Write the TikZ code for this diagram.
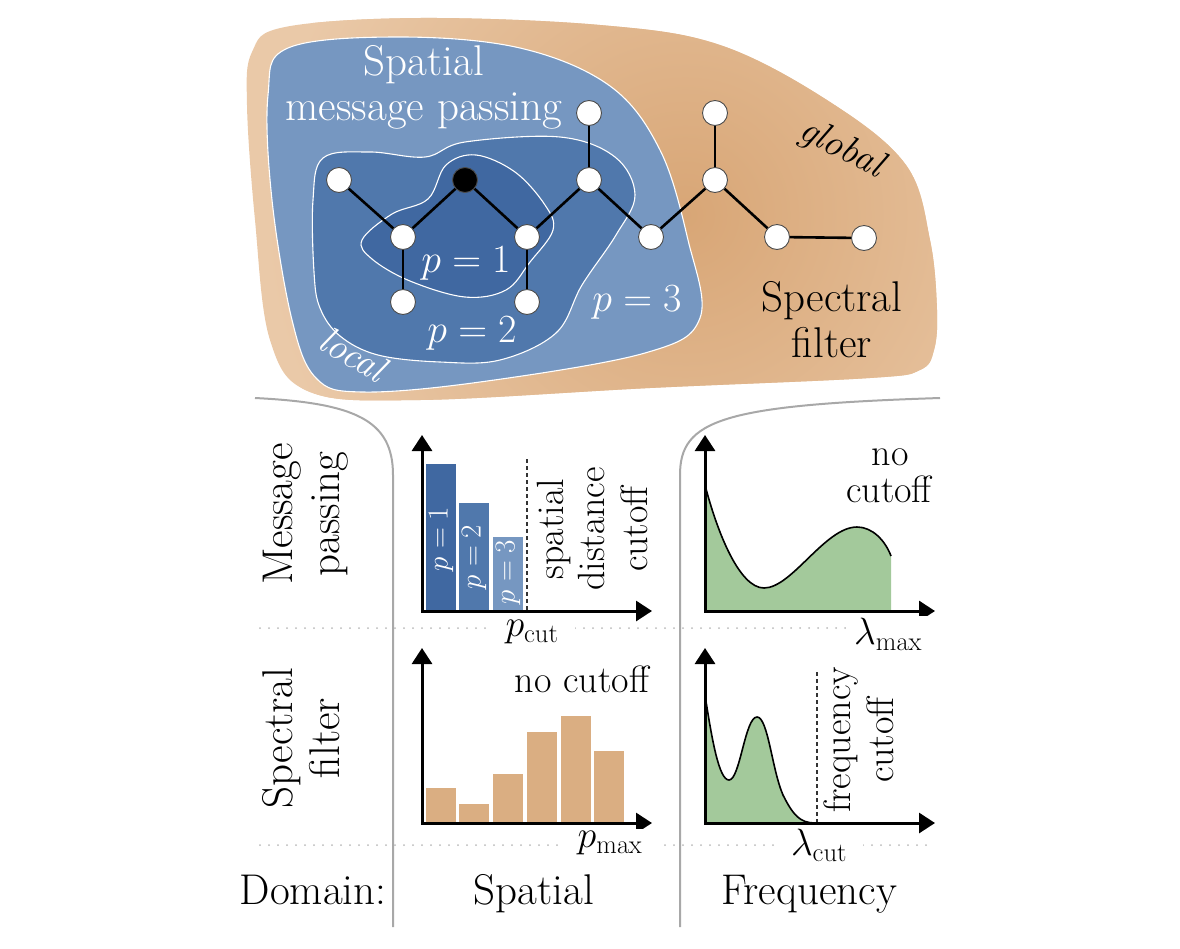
\RequirePackage{fix-cm}
\documentclass[tikz,border=0pt]{standalone}
\usetikzlibrary{arrows.meta}
\definecolor{tanL}{HTML}{EAC9A8}
\definecolor{tanD}{HTML}{D8A676}
\definecolor{blueL}{HTML}{7697C1}
\definecolor{blueM}{HTML}{5078AC}
\definecolor{blueD}{HTML}{4068A1}
\definecolor{barTan}{HTML}{DAAE82}
\definecolor{greenF}{HTML}{A3C99B}
\definecolor{sepGray}{HTML}{A8A8A8}
\tikzset{
 gnode/.style={circle, draw=black!70, fill=white, line width=0.9pt, minimum size=25pt, inner sep=0pt},
 gedge/.style={line width=2.6pt},
 region/.style={draw=white, line width=1.1pt},
 bigtxt/.style={font=\fontsize{43}{51}\selectfont},
 midtxt/.style={font=\fontsize{38}{45}\selectfont},
 ptxt/.style={font=\fontsize{40}{48}\selectfont, text=white},
 bartxt/.style={font=\fontsize{29}{35}\selectfont, text=white},
 axis/.style={line width=3pt, {Triangle[width=20pt,length=16pt]}-{Triangle[width=20pt,length=16pt]}},
 cutline/.style={dash pattern=on 4pt off 3pt, line width=1.2pt, black!80},
 gridline/.style={sepGray!80, line width=2pt, line cap=round, dash pattern=on 0pt off 9pt},
 sepline/.style={sepGray, line width=2pt},
 curve/.style={line width=1.6pt},
 lbl/.style={fill=white, inner xsep=16pt, inner ysep=2pt},
 bar/.style={draw=white, line width=1pt},
}
\begin{document}
\begin{tikzpicture}[x=1pt, y=-1pt]
\useasboundingbox (0,0) rectangle (1180,948);

% ---------- top blob ----------
\begin{scope}
\clip plot[smooth cycle, tension=0.6] coordinates {(247,105) (252,52) (285,27) (420,18) (600,25) (720,45) (830,102) (906,165) (930,240) (937,310) (934,350) (920,370) (870,378) (650,388) (420,400) (310,392) (270,340) (255,220)};
\fill[tanL] (200,0) rectangle (980,420);
\shade[inner color=tanD, outer color=tanL] (685,215) circle[radius=420pt];
\end{scope}

\fill[blueL, region] plot[smooth cycle, tension=0.6] coordinates {(268,95) (288,48) (400,37) (520,48) (610,86) (660,150) (688,240) (700,318) (645,353) (480,382) (362,392) (316,378) (292,320) (272,200)};

\fill[blueM, region] plot[smooth cycle, tension=0.6] coordinates {(313,200) (323,158) (370,152) (425,157) (465,142) (560,137) (615,157) (635,195) (616,235) (582,285) (556,333) (500,360) (440,362) (378,355) (340,336) (320,308) (314,272)};

\fill[blueD, region] plot[smooth cycle, tension=0.6] coordinates {(362,240) (392,214) (428,199) (446,165) (476,155) (515,172) (545,205) (553,230) (530,262) (506,290) (465,297) (410,281) (372,259)};

% graph
\node[gnode] (A) at (339,180) {};
\node[gnode, fill=black] (B) at (465,180) {};
\node[gnode] (C) at (403,237) {};
\node[gnode] (D) at (527,237) {};
\node[gnode] (E) at (403,302) {};
\node[gnode] (F) at (527,302) {};
\node[gnode] (G) at (589,180) {};
\node[gnode] (H) at (589,113) {};
\node[gnode] (I) at (651,237) {};
\node[gnode] (J) at (715,180) {};
\node[gnode] (K) at (715,113) {};
\node[gnode] (L) at (777,237) {};
\node[gnode] (M) at (864,238) {};
\foreach \u/\v in {A/C, C/B, B/D, C/E, D/F, D/G, G/H, G/I, I/J, J/K, J/L, L/M}
  \draw[gedge] (\u) -- (\v);

% texts in blob
\node[bigtxt, text=white, anchor=base] (t1) at (424,75) {Spatial};
\node[bigtxt, text=white, anchor=base] (t2) at (424,120) {message passing};
\node[bigtxt, anchor=base] (t3) at (832,311) {Spectral};
\node[bigtxt, anchor=base] (t4) at (832,357) {filter};
\node[midtxt, rotate=-27, inner sep=0pt] (t5) at (841,149) {\itshape global};
\node[midtxt, text=white, rotate=-30, inner sep=0pt] (t6) at (353,354) {\itshape local};
\node[ptxt, inner sep=0pt] (p1) at (466,263) {$p=1$};
\node[ptxt, inner sep=0pt] (p2) at (472,333) {$p=2$};
\node[ptxt, inner sep=0pt] (p3) at (637,302) {$p=3$};

% ---------- separators ----------
\draw[sepline] (255,398) .. controls (355,403) and (393,420) .. (393,475) -- (393,927);
\draw[sepline] (940,398) .. controls (722,405) and (680,420) .. (680,475) -- (680,927);
\draw[gridline] (260,628) -- (930,628);
\draw[gridline] (260,845) -- (930,845);

% row / column labels
\node[bigtxt, rotate=90, anchor=base] (r1a) at (292,514) {Message};
\node[bigtxt, rotate=90, anchor=base] (r1b) at (339,514) {passing};
\node[bigtxt, rotate=90, anchor=base] (r2a) at (292,738) {Spectral};
\node[bigtxt, rotate=90, anchor=base] (r2b) at (339,738) {filter};
\node[bigtxt, anchor=base] (c0) at (313,904) {Domain:};
\node[bigtxt, anchor=base] (c1) at (534,904) {Spatial};
\node[bigtxt, anchor=base] (c2) at (809,904) {Frequency};

% ---------- chart 1: message passing / spatial ----------
\fill[blueD, bar] (425,611) rectangle (456,463);
\fill[blueM, bar] (458,611) rectangle (489,502);
\fill[blueL, bar] (492,611) rectangle (523,536);
\node[bartxt, rotate=90, inner sep=0pt] (b1) at (441,539) {$p=1$};
\node[bartxt, rotate=90, inner sep=0pt] (b2) at (474,557) {$p=2$};
\node[bartxt, rotate=90, inner sep=0pt] (b3) at (508,572) {$p=3$};
\draw[cutline] (527,459) -- (527,611);
\node[midtxt, rotate=90, anchor=base] (s1) at (563,529) {spatial};
\node[midtxt, rotate=90, anchor=base] (s2) at (604,529) {distance};
\node[midtxt, rotate=90, anchor=base] (s3) at (647,529) {cutoff};
\coordinate (o1) at (422,611);
\coordinate (y1) at (422,435);
\coordinate (x1) at (652,611);
\draw[axis] (y1) -- (o1) -- (x1);
\node[midtxt, lbl] (pc) at (532,632) {$p_{\mathrm{cut}}$};

% ---------- chart 2: message passing / frequency ----------
\fill[greenF] (705,485) .. controls (718,535) and (740,588) .. (764,588)
   .. controls (792,588) and (825,527) .. (857,527)
   .. controls (872,527) and (885,540) .. (891,556) -- (891,611) -- (705,611) -- cycle;
\draw[curve] (705,485) .. controls (718,535) and (740,588) .. (764,588)
   .. controls (792,588) and (825,527) .. (857,527)
   .. controls (872,527) and (885,540) .. (891,556);
\coordinate (o2) at (705,611);
\coordinate (y2) at (705,435);
\coordinate (x2) at (935,611);
\draw[axis] (y2) -- (o2) -- (x2);
\node[midtxt, anchor=base] (nc1) at (890,465) {no};
\node[midtxt, anchor=base] (nc2) at (889,502) {cutoff};
\node[midtxt, lbl, inner xsep=8pt] (lm) at (888,634) {$\lambda_{\max}$};

% ---------- chart 3: spectral / spatial ----------
\fill[barTan, bar] (425,823) rectangle (456,787);
\fill[barTan, bar] (458,823) rectangle (489,803);
\fill[barTan, bar] (492,823) rectangle (523,773);
\fill[barTan, bar] (526,823) rectangle (557,731);
\fill[barTan, bar] (560,823) rectangle (591,715);
\fill[barTan, bar] (593,823) rectangle (624,750);
\coordinate (o3) at (422,823);
\coordinate (y3) at (422,648);
\coordinate (x3) at (652,823);
\draw[axis] (y3) -- (o3) -- (x3);
\node[midtxt, anchor=base] (nc3) at (582,692) {no cutoff};
\node[midtxt, lbl] (pm) at (610,843) {$p_{\max}$};

% ---------- chart 4: spectral / frequency ----------
\fill[greenF] (705,695) .. controls (712,740) and (719,780) .. (729,780)
   .. controls (740,780) and (745,717) .. (757,717)
   .. controls (768,717) and (772,770) .. (783,795)
   .. controls (793,815) and (800,823) .. (815,823) -- (705,823) -- cycle;
\draw[curve] (705,695) .. controls (712,740) and (719,780) .. (729,780)
   .. controls (740,780) and (745,717) .. (757,717)
   .. controls (768,717) and (772,770) .. (783,795)
   .. controls (793,815) and (800,823) .. (815,823);
\draw[cutline] (817,672) -- (817,823);
\coordinate (o4) at (705,823);
\coordinate (y4) at (705,648);
\coordinate (x4) at (935,823);
\draw[axis] (y4) -- (o4) -- (x4);
\node[midtxt, rotate=90, anchor=base] (f1) at (850,740) {frequency};
\node[midtxt, rotate=90, anchor=base] (f2) at (893,740) {cutoff};
\node[midtxt, lbl] (lc) at (819,845) {$\lambda_{\mathrm{cut}}$};
\end{tikzpicture}
\end{document}
